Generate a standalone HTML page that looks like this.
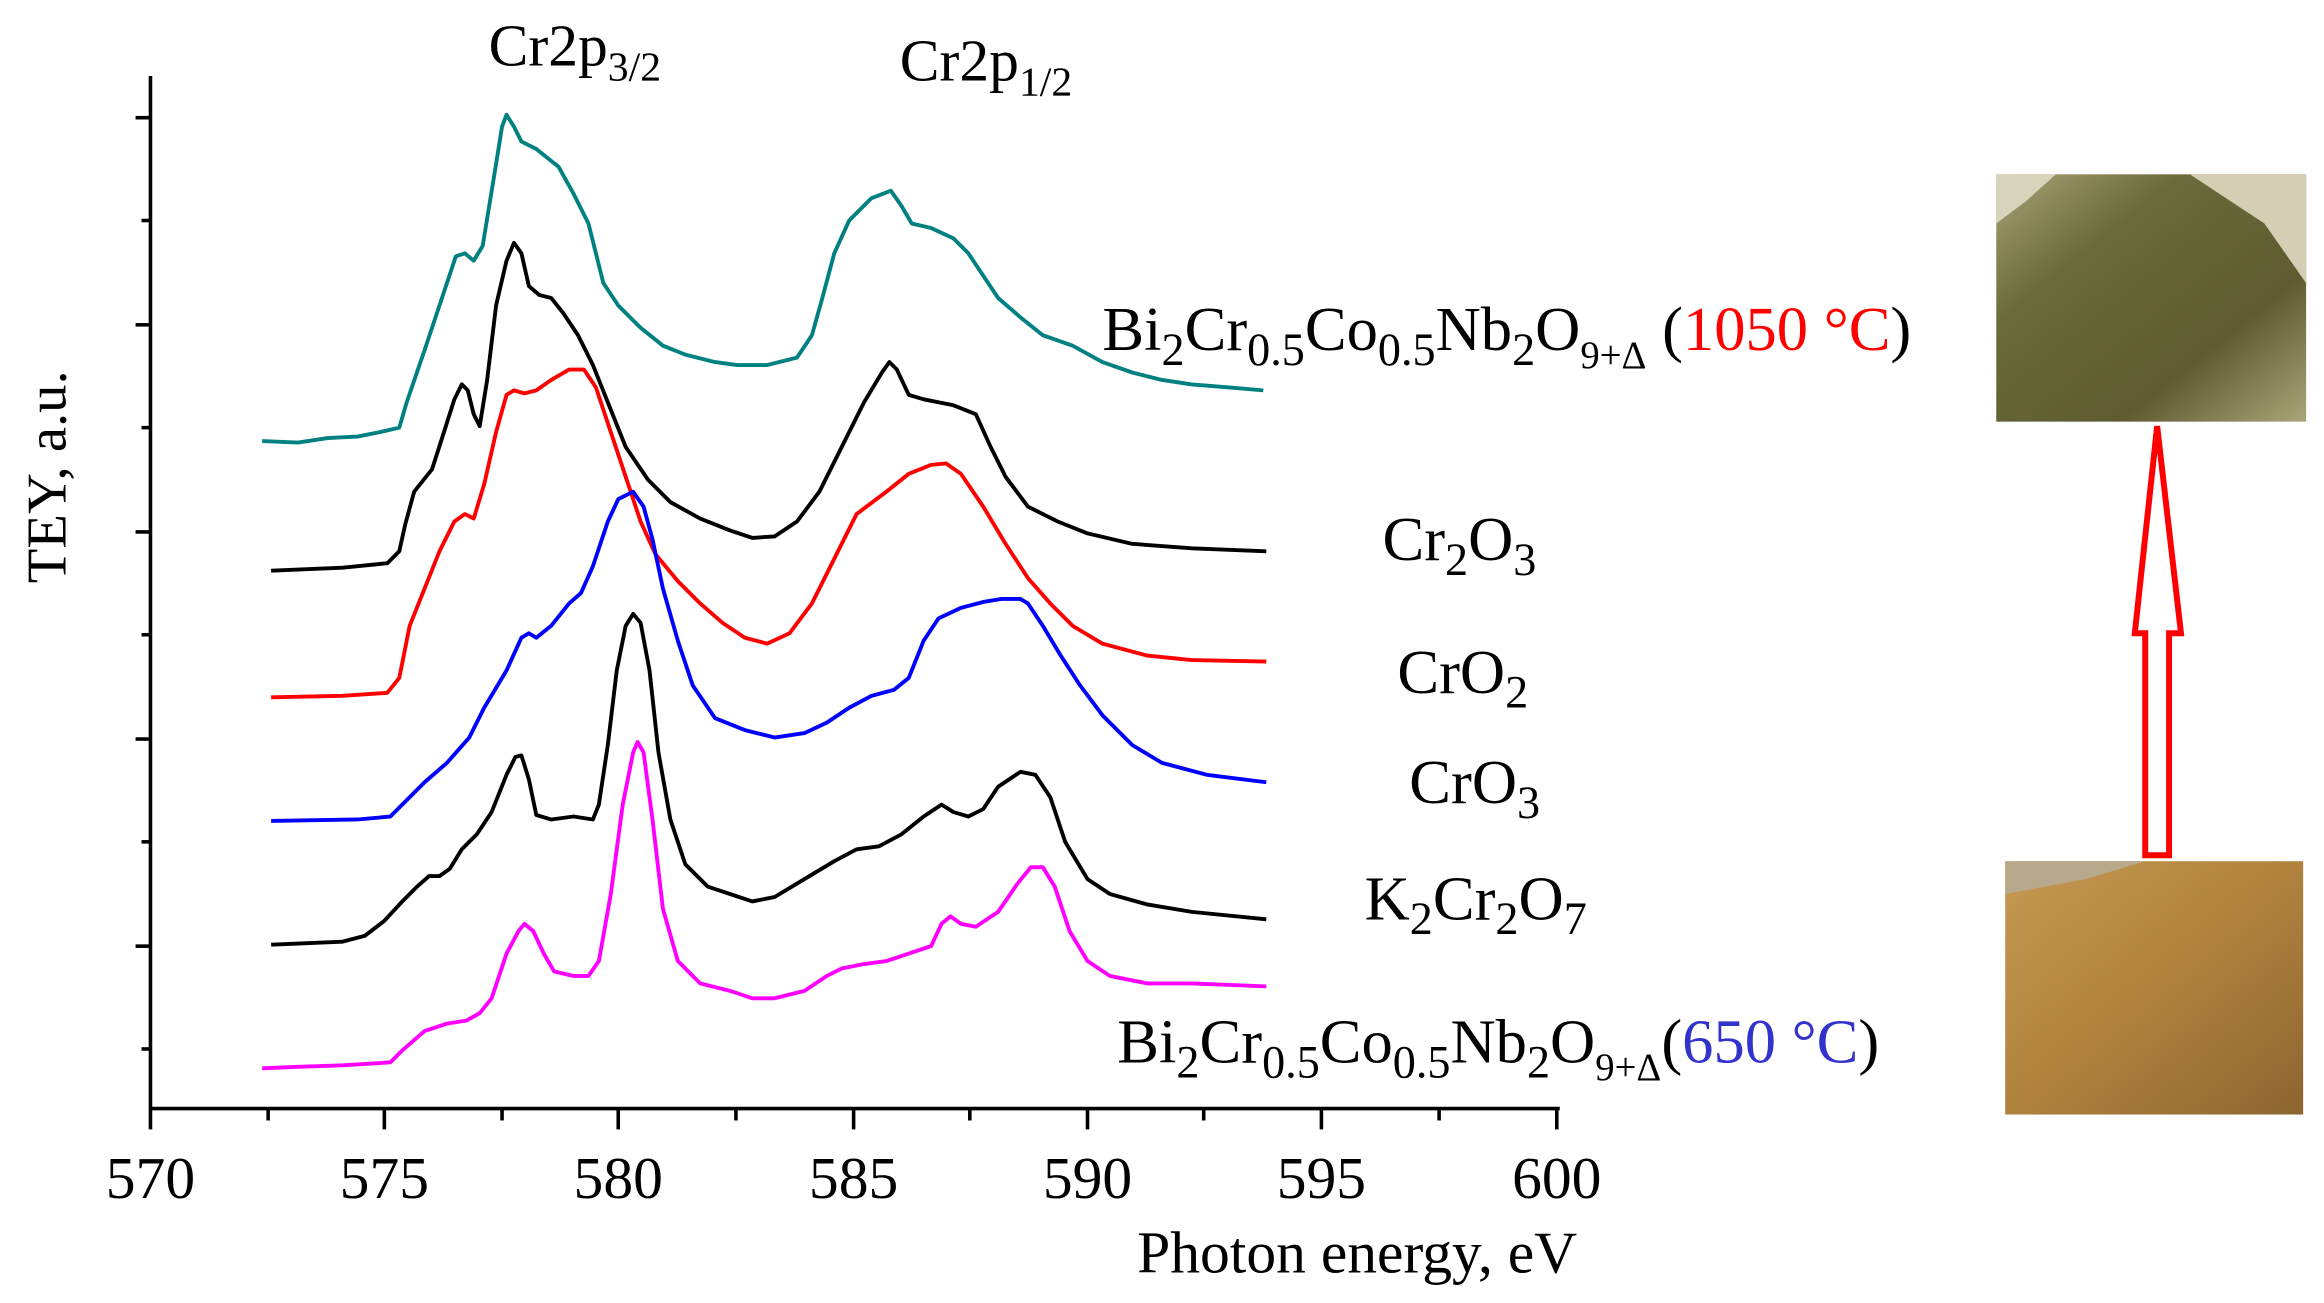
<!DOCTYPE html>
<html><head><meta charset="utf-8"><style>
html,body{margin:0;padding:0;background:#fff;}
svg{display:block;}
text{font-family:"Liberation Serif",serif;}
</style></head><body>
<svg width="2324" height="1303" viewBox="0 0 1560 874.5" preserveAspectRatio="none" xmlns="http://www.w3.org/2000/svg">
<rect width="1560" height="874.5" fill="#fff"/>
<g stroke="#000" stroke-width="2.4" fill="none">
<line x1="101" y1="51" x2="101" y2="744"/>
<line x1="100" y1="744" x2="1047" y2="744"/>
<line x1="91" y1="79" x2="101" y2="79"/>
<line x1="91" y1="218" x2="101" y2="218"/>
<line x1="91" y1="357" x2="101" y2="357"/>
<line x1="91" y1="496" x2="101" y2="496"/>
<line x1="91" y1="635" x2="101" y2="635"/>
<line x1="95" y1="148" x2="101" y2="148"/>
<line x1="95" y1="287" x2="101" y2="287"/>
<line x1="95" y1="426" x2="101" y2="426"/>
<line x1="95" y1="565" x2="101" y2="565"/>
<line x1="95" y1="704" x2="101" y2="704"/>
<line x1="101" y1="744" x2="101" y2="758"/>
<line x1="258" y1="744" x2="258" y2="758"/>
<line x1="415" y1="744" x2="415" y2="758"/>
<line x1="573" y1="744" x2="573" y2="758"/>
<line x1="730" y1="744" x2="730" y2="758"/>
<line x1="887" y1="744" x2="887" y2="758"/>
<line x1="1045" y1="744" x2="1045" y2="758"/>
<line x1="180" y1="744" x2="180" y2="752"/>
<line x1="337" y1="744" x2="337" y2="752"/>
<line x1="494" y1="744" x2="494" y2="752"/>
<line x1="651" y1="744" x2="651" y2="752"/>
<line x1="808" y1="744" x2="808" y2="752"/>
<line x1="966" y1="744" x2="966" y2="752"/>
</g>
<g font-size="40" text-anchor="middle" fill="#000">
<text x="101" y="804">570</text><text x="258" y="804">575</text><text x="415" y="804">580</text>
<text x="573" y="804">585</text><text x="730" y="804">590</text><text x="887" y="804">595</text><text x="1045" y="804">600</text>
</g>
<text x="911" y="854" font-size="40" text-anchor="middle">Photon energy, eV</text>
<text transform="translate(44,320) rotate(-90)" font-size="38" text-anchor="middle">TEY, a.u.</text>
<text x="328" y="44" font-size="40">Cr2p<tspan font-size="28" dy="10">3/2</tspan></text>
<text x="604" y="54" font-size="40">Cr2p<tspan font-size="28" dy="10">1/2</tspan></text>
<g fill="none" stroke-width="2.6" stroke-linejoin="round">
<polyline stroke="#008080" points="176,296 200,297 220,294 240,293 255,290 268,287 273,270 285,235 300,190 306,172 312,170 318,175 324,165 333,110 337,85 340,77 345,85 350,95 360,100 375,112 385,130 395,150 405,190 415,205 430,220 445,232 460,238 480,243 495,245 515,245 535,240 545,225 552,200 560,170 570,148 585,133 598,128 605,138 612,150 625,153 640,160 650,170 660,185 670,200 685,213 700,225 720,232 740,243 760,250 780,255 800,258 825,260 848,262"/>
<polyline stroke="#000" points="182,383 230,381 260,378 268,370 272,352 278,330 290,315 298,290 305,268 310,258 314,262 318,278 322,286 327,255 333,205 340,175 345,163 350,170 355,192 362,198 370,200 378,210 388,225 398,245 410,275 420,300 435,322 450,337 470,348 490,356 505,361 520,360 535,350 550,330 565,300 580,270 592,250 597,243 602,248 610,265 620,268 640,272 655,278 665,300 675,320 690,340 710,350 730,358 760,365 800,368 850,370"/>
<polyline stroke="#ff0000" points="182,468 230,467 260,465 268,455 275,420 285,395 295,370 305,350 312,345 318,348 325,325 333,290 340,265 345,262 352,264 360,262 370,255 382,248 392,248 400,260 410,290 420,320 430,350 440,372 455,390 470,405 485,418 500,428 515,432 530,425 545,405 560,375 575,345 595,330 610,318 625,312 635,311 645,318 660,340 675,365 690,388 705,405 720,420 740,432 770,440 800,443 850,444"/>
<polyline stroke="#0000ff" points="182,551 240,550 262,548 270,540 285,525 300,512 315,495 325,475 340,450 350,428 355,425 360,428 370,420 382,405 390,398 398,380 408,350 415,335 425,330 432,340 438,362 445,395 455,430 465,460 480,482 500,490 520,495 540,492 555,485 570,475 585,467 600,463 610,455 620,430 630,415 645,408 660,404 672,402 685,402 690,405 700,420 712,440 725,460 740,480 760,500 780,512 810,520 850,525"/>
<polyline stroke="#000" points="182,634 230,632 245,628 258,618 270,605 280,595 288,588 295,588 302,583 310,570 320,560 330,545 340,520 346,508 350,507 355,523 360,547 370,550 385,548 398,550 402,540 408,500 414,450 420,420 425,412 430,418 436,450 442,505 450,550 460,580 475,595 490,600 505,605 520,602 540,590 560,578 575,570 590,568 605,560 620,548 632,540 640,545 650,548 660,543 670,528 685,518 695,520 705,535 715,565 730,590 745,600 770,607 800,612 850,617"/>
<polyline stroke="#ff00ff" points="176,717 200,716 230,715 262,713 270,705 285,692 300,687 313,685 322,680 330,670 340,640 348,625 352,620 358,625 365,640 372,652 385,655 395,655 402,645 410,600 418,540 425,505 428,498 432,505 438,550 445,610 455,645 470,660 490,665 505,670 520,670 540,665 555,655 565,650 580,647 595,645 610,640 625,635 632,620 638,615 645,620 655,622 670,612 683,593 692,582 700,582 708,595 718,625 730,645 745,655 770,660 800,660 850,662"/>
</g>
<g font-size="42" fill="#000">
<text x="740" y="235">Bi<tspan font-size="31" dy="10">2</tspan><tspan dy="-10">Cr</tspan><tspan font-size="31" dy="10">0.5</tspan><tspan dy="-10">Co</tspan><tspan font-size="31" dy="10">0.5</tspan><tspan dy="-10">Nb</tspan><tspan font-size="31" dy="10">2</tspan><tspan dy="-10">O</tspan><tspan font-size="26" dy="12">9+Δ</tspan><tspan dy="-12"> (</tspan><tspan fill="#ff0000">1050 °C</tspan>)</text>
<text x="928" y="376">Cr<tspan font-size="31" dy="10">2</tspan><tspan dy="-10">O</tspan><tspan font-size="31" dy="10">3</tspan></text>
<text x="938" y="465">CrO<tspan font-size="31" dy="10">2</tspan></text>
<text x="946" y="539">CrO<tspan font-size="31" dy="10">3</tspan></text>
<text x="916" y="617">K<tspan font-size="31" dy="10">2</tspan><tspan dy="-10">Cr</tspan><tspan font-size="31" dy="10">2</tspan><tspan dy="-10">O</tspan><tspan font-size="31" dy="10">7</tspan></text>
<text x="750" y="713">Bi<tspan font-size="31" dy="10">2</tspan><tspan dy="-10">Cr</tspan><tspan font-size="31" dy="10">0.5</tspan><tspan dy="-10">Co</tspan><tspan font-size="31" dy="10">0.5</tspan><tspan dy="-10">Nb</tspan><tspan font-size="31" dy="10">2</tspan><tspan dy="-10">O</tspan><tspan font-size="26" dy="12">9+Δ</tspan><tspan dy="-12">(</tspan><tspan fill="#3333cc">650 °C</tspan>)</text>
</g>
<defs>
<linearGradient id="g1" x1="0" y1="0" x2="1" y2="1"><stop offset="0" stop-color="#a8a57a"/><stop offset="0.3" stop-color="#6b6a3a"/><stop offset="0.7" stop-color="#5e5c30"/><stop offset="1" stop-color="#a9a67a"/></linearGradient>
<linearGradient id="g2" x1="0" y1="0" x2="1" y2="1"><stop offset="0" stop-color="#c59a52"/><stop offset="0.5" stop-color="#b0823e"/><stop offset="1" stop-color="#8c6530"/></linearGradient>
</defs>
<rect x="1340" y="117" width="208" height="166" fill="url(#g1)"/>
<path d="M1340,117 L1380,117 L1360,135 L1340,150 Z" fill="#d8d4bc"/>
<path d="M1470,117 L1548,117 L1548,190 L1520,150 Z" fill="#d4cfb4"/>
<rect x="1346" y="578" width="200" height="170" fill="url(#g2)"/>
<path d="M1346,578 L1440,578 L1400,590 L1346,600 Z" fill="#b8a98c"/>
<path d="M1448,286 L1464,425 L1456,425 L1456,574 L1440,574 L1440,425 L1433,425 Z" fill="none" stroke="#ff0000" stroke-width="4" stroke-linejoin="miter"/>
</svg>
</body></html>
